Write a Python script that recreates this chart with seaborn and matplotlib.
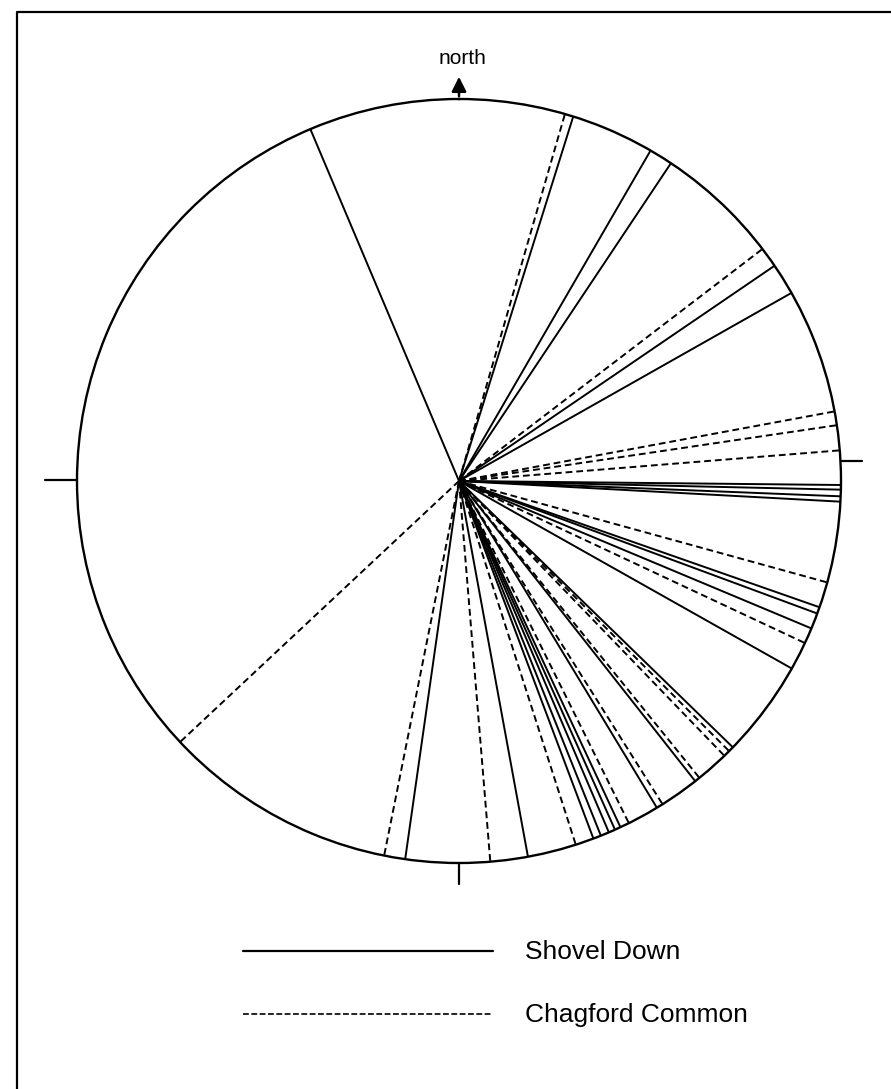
import numpy as np
import pandas as pd
import matplotlib
matplotlib.use("Agg")
import matplotlib.pyplot as plt
import seaborn as sns

# Bearings (degrees clockwise from north)
shovel_down = [17.4, 30.1, 33.7, 55.7, 60.5, 90.6, 91.3, 92.3, 93.1,
               109.3, 110.3, 112.7, 119.4, 134.2, 141.8, 148.8,
               155.0, 155.9, 156.9, 158.2, 159.4, 169.6, 188.1, 337.1]
chagford_common = [16.1, 52.6, 79.5, 81.6, 85.4, 105.4, 115.1, 135.0,
                   136.0, 141.0, 147.8, 153.6, 162.2, 175.3, 191.3, 226.9]
sites = ["Shovel Down", "Chagford Common"]

# Step 1 : one row per end of every radial line
rows = []
for site, bearings in zip(sites, [shovel_down, chagford_common]):
    for i, b in enumerate(bearings):
        for r in (0, 1):
            rows.append({"site": site, "id": f"{site}-{i}",
                         "theta": np.deg2rad(b), "r": r})
df = pd.DataFrame(rows)

sns.set_style("white")
plt.rcParams["font.family"] = ["Liberation Sans", "DejaVu Sans"]
plt.rcParams["text.color"] = "black"

W, H = 891, 1089
fig = plt.figure(figsize=(W / 100, H / 100), dpi=100)

# overlay in pixel coords for frame, compass ticks and legend
over = fig.add_axes([0, 0, 1, 1])
over.set_xlim(0, W)
over.set_ylim(H, 0)
over.axis("off")

# Step 2 : the rose itself on a polar axes
cx, cy, R = 459, 481, 382
ax = fig.add_axes([(cx - R) / W, 1 - (cy + R) / H, 2 * R / W, 2 * R / H],
                  projection="polar")
ax.set_theta_zero_location("N")
ax.set_theta_direction(-1)
sns.lineplot(data=df, x="theta", y="r", units="id", estimator=None,
             style="site", sort=False, color="black", linewidth=1.4,
             dashes={"Shovel Down": "", "Chagford Common": (3.5, 2)},
             legend=False, ax=ax)
ax.set_ylim(0, 1)
ax.set_xticks([])
ax.set_yticks([])
ax.grid(False)
ax.set_xlabel("")
ax.set_ylabel("")
ax.spines["polar"].set_linewidth(1.7)
ax.spines["polar"].set_color("black")

# Step 3 : frame and compass ticks
over.plot([17, 17, W + 5], [H + 5, 12, 12], color="black", lw=1.6)
over.plot([45, 77], [480, 480], color="black", lw=1.6)
over.plot([840, 862], [461, 461], color="black", lw=1.6)
over.plot([459, 459], [862, 884], color="black", lw=1.6)
over.annotate("", xy=(459, 74), xytext=(459, 99),
              arrowprops=dict(arrowstyle="-|>", lw=1.8, color="black",
                              mutation_scale=22))
over.text(463, 59, "north", ha="center", va="center", fontsize=15,
          color="black")

# Step 4 : legend
over.plot([243, 493], [951, 951], color="black", lw=1.6)
over.text(525, 952, "Shovel Down", ha="left", va="center", fontsize=19,
          color="black")
over.plot([243, 493], [1014, 1014], color="black", lw=1.2,
          dashes=(3.5, 1.5))
over.text(525, 1015, "Chagford Common", ha="left", va="center",
          fontsize=19, color="black")

fig.savefig("out.png", dpi=100)
